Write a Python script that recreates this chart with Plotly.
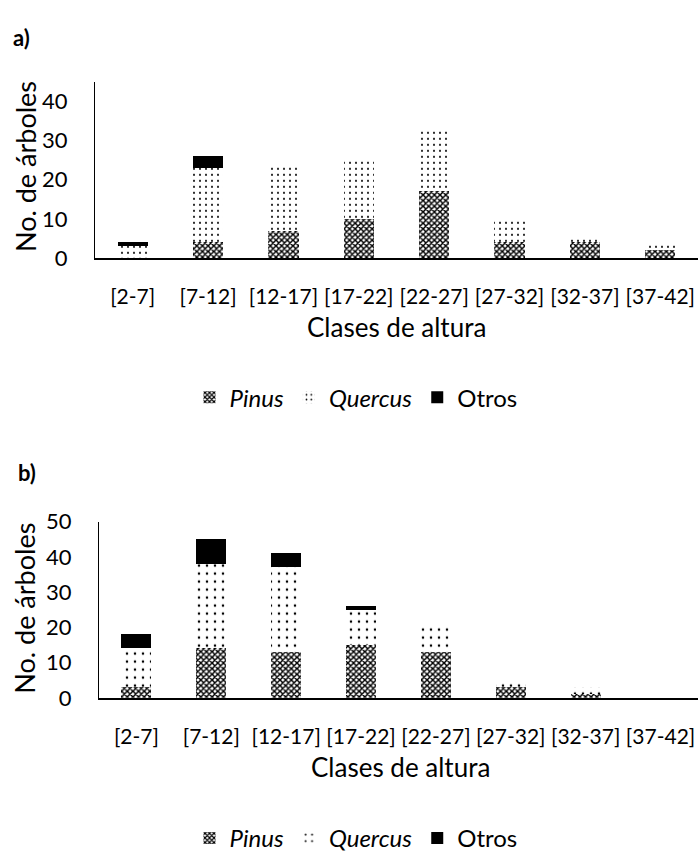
import plotly.graph_objects as go

categories = ["[2-7]", "[7-12]", "[12-17]", "[17-22]", "[22-27]", "[27-32]", "[32-37]", "[37-42]"]
a_pinus = [0, 4, 7, 10, 17, 4, 4, 2]
a_quercus = [3, 19, 17, 15, 16, 6, 1, 2]
a_otros = [1, 3, 0, 0, 0, 0, 0, 0]
b_pinus = [3, 14, 13, 15, 13, 3, 1, 0]
b_quercus = [11, 24, 24, 10, 7, 2, 2, 0]
b_otros = [4, 7, 4, 1, 0, 0, 0, 0]
series_names = ["<i>Pinus</i>", "<i>Quercus</i>", "Otros"]

W, H = 698, 861
FONT = "Lato"

def py(px):
    return 1 - px / H

def px_x(px):
    return px / W

pat_pinus = dict(shape="x", size=4, solidity=0.6, fgcolor="black", bgcolor="white", fillmode="replace")
pat_quercus_a = dict(shape=".", size=6, solidity=0.1, fgcolor="black", bgcolor="white", fillmode="replace")
pat_quercus_b = dict(shape=".", size=8, solidity=0.08, fgcolor="black", bgcolor="white", fillmode="replace")

fig = go.Figure()

def add_panel(pin, que, otr, qpat, xa, ya, legend):
    fig.add_bar(x=categories, y=pin, name=series_names[0], xaxis=xa, yaxis=ya, legend=legend,
                marker=dict(color="white", pattern=pat_pinus, line=dict(width=0)))
    fig.add_bar(x=categories, y=que, name=series_names[1], xaxis=xa, yaxis=ya, legend=legend,
                marker=dict(color="white", pattern=qpat, line=dict(width=0)))
    fig.add_bar(x=categories, y=otr, name=series_names[2], xaxis=xa, yaxis=ya, legend=legend,
                marker=dict(color="black", line=dict(width=0)))

add_panel(a_pinus, a_quercus, a_otros, pat_quercus_a, "x", "y", "legend")
add_panel(b_pinus, b_quercus, b_otros, pat_quercus_b, "x2", "y2", "legend2")

xcommon = dict(showline=True, linecolor="black", linewidth=2, showgrid=False, ticks="",
               tickfont=dict(family=FONT, size=21, color="black"), ticklabelstandoff=19,
               fixedrange=True)
ycommon = dict(showline=True, linecolor="black", linewidth=1, showgrid=False, ticks="",
               tickfont=dict(family=FONT, size=22, color="black"), ticklabelstandoff=22,
               dtick=10, zeroline=False)

legcommon = dict(orientation="h", xanchor="center", yanchor="middle",
                 font=dict(family=FONT, size=24, color="black"), traceorder="normal",
                 bgcolor="rgba(0,0,0,0)")

fig.update_layout(
    width=W, height=H, margin=dict(l=0, r=0, t=0, b=0),
    paper_bgcolor="white", plot_bgcolor="white",
    barmode="stack", bargap=0.6,
    xaxis=dict(domain=[px_x(95), 1], anchor="y", **xcommon),
    yaxis=dict(domain=[py(252), py(70)], anchor="x", range=[0, 45], **ycommon),
    xaxis2=dict(domain=[px_x(99), 1], anchor="y2", **xcommon),
    yaxis2=dict(domain=[py(706), py(524)], anchor="x2", range=[0, 50], **ycommon),
    legend=dict(x=px_x(356), y=py(396), **legcommon),
    legend2=dict(x=px_x(356), y=py(851), **legcommon),
    font=dict(family=FONT, color="black"),
    annotations=[
        dict(text="<b>a)</b>", x=px_x(11), y=py(24), xref="paper", yref="paper", xanchor="left",
             yanchor="middle", showarrow=False, font=dict(family=FONT, size=22)),
        dict(text="<b>b)</b>", x=px_x(16), y=py(473), xref="paper", yref="paper", xanchor="left",
             yanchor="middle", showarrow=False, font=dict(family=FONT, size=22)),
        dict(text="No. de árboles", x=px_x(25), y=py(158), xref="paper", yref="paper", textangle=-90,
             xanchor="center", yanchor="middle", showarrow=False, font=dict(family=FONT, size=27)),
        dict(text="No. de árboles", x=px_x(25), y=py(614), xref="paper", yref="paper", textangle=-90,
             xanchor="center", yanchor="middle", showarrow=False, font=dict(family=FONT, size=27)),
        dict(text="Clases de altura", x=px_x(396), y=py(323), xref="paper", yref="paper",
             xanchor="center", yanchor="middle", showarrow=False, font=dict(family=FONT, size=26)),
        dict(text="Clases de altura", x=px_x(400), y=py(777), xref="paper", yref="paper",
             xanchor="center", yanchor="middle", showarrow=False, font=dict(family=FONT, size=26)),
    ],
)

fig.write_html("out.html")
